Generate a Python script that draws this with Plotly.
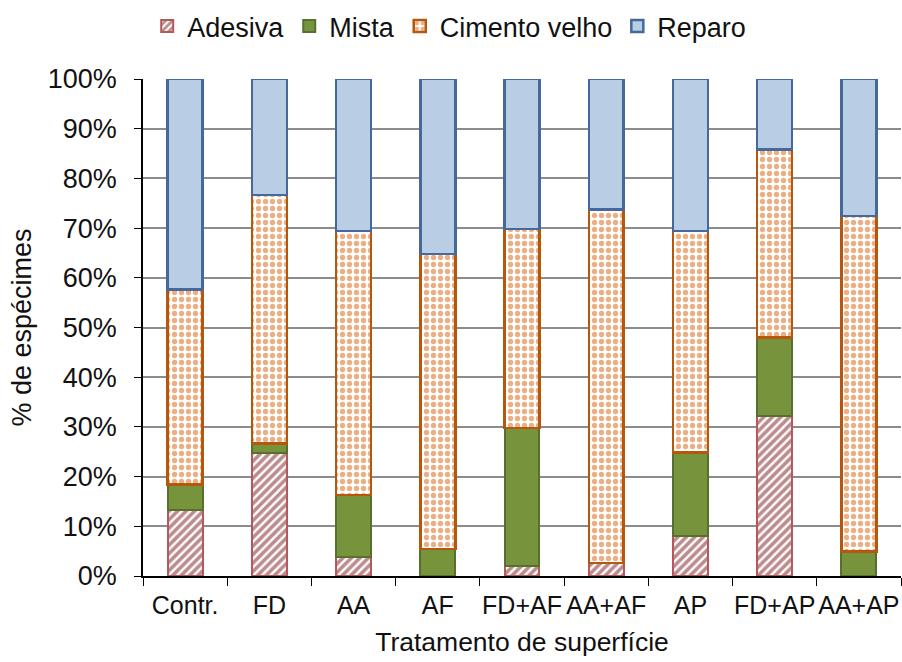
import plotly.graph_objects as go

# Surface treatments and failure-mode shares (% of specimens)
categories = ["Contr.", "FD", "AA", "AF", "FD+AF", "AA+AF", "AP", "FD+AP", "AA+AP"]
adesiva = [13.3, 24.8, 3.9, 0.0, 2.1, 2.6, 8.0, 32.1, 0.0]
mista = [5.1, 1.9, 12.4, 5.4, 27.7, 0.0, 16.9, 15.9, 4.9]
cimento_velho = [39.2, 50.0, 53.1, 59.4, 40.0, 71.1, 44.5, 37.8, 67.5]
reparo = [42.4, 23.3, 30.6, 35.2, 30.2, 26.3, 30.6, 14.2, 27.6]
y_ticks = [0, 10, 20, 30, 40, 50, 60, 70, 80, 90, 100]

FONT = "Liberation Sans, Arial, sans-serif"

fig = go.Figure()
fig.add_bar(
    name="Adesiva", x=categories, y=adesiva,
    marker=dict(
        color="white",
        line=dict(color="#b5585b", width=2),
        pattern=dict(shape="/", fgcolor="#7a1a1e", bgcolor="white", size=6, solidity=0.6),
    ),
)
fig.add_bar(
    name="Mista", x=categories, y=mista,
    marker=dict(color="#77933c", line=dict(color="#58702f", width=2)),
)
fig.add_bar(
    name="Cimento velho", x=categories, y=cimento_velho,
    marker=dict(
        color="white",
        line=dict(color="#b5570c", width=2.5),
        pattern=dict(shape=".", fgcolor="#dc5f05", bgcolor="white", size=7, solidity=0.45),
    ),
)
fig.add_bar(
    name="Reparo", x=categories, y=reparo,
    marker=dict(color="#b9cde5", line=dict(color="#44699a", width=2.5)),
)

fig.update_layout(
    barmode="stack",
    bargap=0.585,
    width=902,
    height=662,
    margin=dict(l=143, r=1, t=79, b=86, autoexpand=False),
    paper_bgcolor="white",
    plot_bgcolor="white",
    font=dict(family=FONT, size=26, color="#111111"),
    legend=dict(
        orientation="h",
        xref="container", yref="container",
        x=0.498, xanchor="center",
        y=0.96, yanchor="middle",
        font=dict(size=27),
        traceorder="normal",
        itemwidth=30,
    ),
    xaxis=dict(
        title=dict(text="Tratamento de superfície", font=dict(size=26.5), standoff=15),
        showline=True, linecolor="black", linewidth=1.5,
        ticks="outside", tickson="boundaries", ticklen=8, tickcolor="black",
        showgrid=False,
        tickangle=0,
        automargin=False,
        ticklabelstandoff=6,
        tickfont=dict(size=25),
    ),
    yaxis=dict(
        title=dict(text="% de espécimes", font=dict(size=27), standoff=8),
        range=[0, 100],
        tickvals=y_ticks,
        ticktext=[f"{v}%" for v in y_ticks],
        showline=True, linecolor="black", linewidth=1.5,
        ticks="outside", ticklen=7, tickcolor="black",
        showgrid=True, gridcolor="#8c8c8c", gridwidth=1.5,
        zeroline=False,
        automargin=False,
        ticklabelstandoff=12,
        tickfont=dict(size=27),
    ),
)

fig.write_html("out.html")
